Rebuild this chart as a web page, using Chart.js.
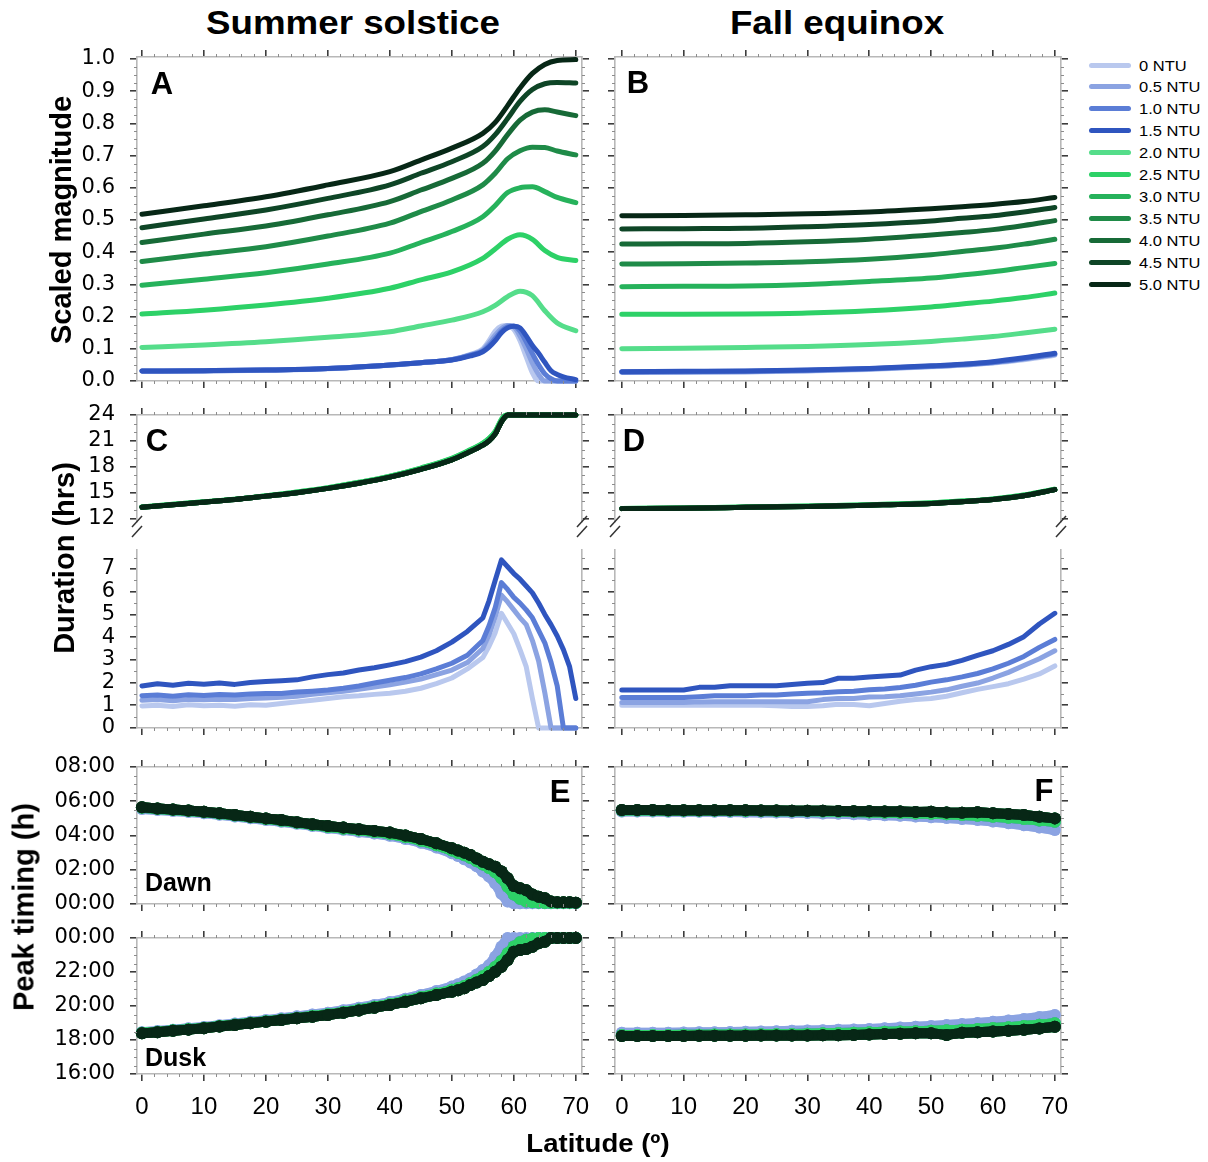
<!DOCTYPE html>
<html lang="en">
<head>
<meta charset="UTF-8">
<title>Scaled magnitude, duration and peak timing vs latitude</title>
<script src="https://cdn.jsdelivr.net/npm/chart.js"></script>
<style>
    body {
        margin: 0;
        background: #fff;
        font-family: 'Liberation Sans', Arial, sans-serif;
    }

    #figure {
        position: relative;
        width: 1208px;
        height: 1162px;
        overflow: hidden;
        background: #fff;
    }

    #figure canvas {
        position: absolute;
    }

    .txt {
        position: absolute;
        white-space: nowrap;
        line-height: 1;
        font-weight: bold;
        color: #000;
    }

    .legend-row {
        position: absolute;
        left: 1089px;
        height: 20px;
        display: flex;
        align-items: center;
    }

    .legend-line {
        width: 42px;
        height: 5px;
        border-radius: 3px;
        margin-right: 8px;
    }

    .legend-text {
        font-size: 15px;
        color: #000;
        transform: scaleX(1.1);
        transform-origin: left center;
    }
</style>
</head>
<body>
<div id="figure"></div>

<script>
// Turbidity levels (one series each)
const NTU_LABELS = ['0 NTU', '0.5 NTU', '1.0 NTU', '1.5 NTU', '2.0 NTU', '2.5 NTU',
                    '3.0 NTU', '3.5 NTU', '4.0 NTU', '4.5 NTU', '5.0 NTU'];
const NTU_COLORS = ['#b9c8ee', '#8ba3e2', '#5b7dd6', '#2f55bf', '#55dd8a', '#2dd167',
                    '#26b25b', '#1f8b48', '#176a37', '#0e4526', '#072716'];

// Tick values
const LAT_TICKS = [0, 10, 20, 30, 40, 50, 60, 70];
const MAG_TICKS = [0, 0.1, 0.2, 0.3, 0.4, 0.5, 0.6, 0.7, 0.8, 0.9, 1.0];
const DUR_HI_TICKS = [12, 15, 18, 21, 24];
const DUR_LO_TICKS = [0, 1, 2, 3, 4, 5, 6, 7];
const DAWN_TICKS = [0, 2, 4, 6, 8];
const DUSK_TICKS = [16, 18, 20, 22, 24];

// ---- Scaled magnitude, summer solstice ----
const LAT_MAG_SUMMER_BLUE = [0, 10, 20, 30, 40, 45, 50, 53, 55, 56, 57, 58, 59, 60, 61, 62, 63, 64, 65, 66, 67, 68, 70];
const MAG_SUMMER_0  = [.030, .031, .033, .038, .049, .057, .067, .083, .100, .125, .155, .170, .172, .160, .125, .075, .025, 0, 0, 0, 0, 0, 0];
const MAG_SUMMER_05 = [.030, .031, .034, .039, .050, .057, .066, .081, .096, .118, .142, .162, .172, .168, .140, .100, .055, .020, 0, 0, 0, 0, 0];
const MAG_SUMMER_10 = [.031, .032, .034, .039, .050, .057, .066, .080, .093, .110, .132, .155, .168, .171, .155, .122, .085, .050, .022, .007, 0, 0, 0];
const MAG_SUMMER_15 = [.031, .032, .034, .039, .050, .057, .065, .078, .091, .105, .125, .150, .165, .170, .165, .140, .110, .086, .058, .032, .020, .013, .004];

const LAT_MAG_SUMMER_GREEN = [0, 10, 20, 30, 40, 45, 50, 55, 57, 59, 61, 63, 65, 67, 70];
const MAG_SUMMER_20 = [.104, .112, .122, .136, .153, .171, .189, .215, .235, .262, .279, .265, .218, .180, .156];
const MAG_SUMMER_25 = [.208, .220, .236, .257, .288, .314, .339, .381, .410, .440, .454, .440, .405, .384, .374];
const MAG_SUMMER_30 = [.297, .316, .336, .363, .397, .430, .464, .510, .545, .585, .600, .603, .588, .570, .554];
const MAG_SUMMER_35 = [.371, .394, .417, .450, .490, .526, .562, .609, .645, .690, .715, .726, .725, .714, .702];
const MAG_SUMMER_40 = [.430, .456, .481, .516, .557, .593, .629, .676, .714, .765, .810, .835, .842, .835, .824];
const MAG_SUMMER_45 = [.476, .503, .531, .567, .609, .645, .681, .728, .765, .815, .868, .905, .923, .927, .925];
const MAG_SUMMER_50 = [.518, .544, .572, .609, .650, .686, .723, .769, .803, .855, .910, .955, .983, .995, .998];

// ---- Scaled magnitude, fall equinox ----
const LAT_MAG_FALL = [0, 10, 20, 30, 40, 50, 55, 60, 65, 70];
const MAG_FALL_0  = [.027, .027, .028, .031, .036, .044, .049, .056, .066, .080];
const MAG_FALL_05 = [.027, .028, .029, .032, .037, .045, .050, .057, .068, .082];
const MAG_FALL_10 = [.028, .029, .030, .033, .038, .046, .051, .058, .070, .084];
const MAG_FALL_15 = [.029, .030, .031, .034, .039, .047, .052, .060, .072, .086];
const MAG_FALL_20 = [.100, .102, .104, .107, .113, .123, .130, .138, .149, .161];
const MAG_FALL_25 = [.207, .207, .208, .211, .218, .230, .239, .248, .259, .273];
const MAG_FALL_30 = [.293, .294, .295, .300, .309, .320, .329, .339, .352, .365];
const MAG_FALL_35 = [.363, .364, .366, .370, .378, .392, .402, .412, .425, .440];
const MAG_FALL_40 = [.425, .426, .427, .432, .440, .453, .461, .470, .483, .498];
const MAG_FALL_45 = [.472, .473, .474, .479, .486, .497, .505, .513, .525, .539];
const MAG_FALL_50 = [.513, .514, .516, .519, .525, .535, .541, .548, .557, .570];

// ---- Duration (hrs), long branch (2.0 - 5.0 NTU) ----
const LAT_DUR_SUMMER_LONG = [0, 5, 10, 15, 20, 25, 30, 35, 40, 45, 50, 52.5, 55, 56, 57, 57.5, 58, 58.5, 59, 60, 65, 70];
const DUR_SUMMER_LONG_LIGHT = [13.35, 13.65, 13.95, 14.25, 14.65, 15.08, 15.58, 16.2, 16.92, 17.85, 18.98, 19.8, 20.75, 21.3, 22.1, 22.8, 23.5, 23.9, 24, 24, 24, 24];
const DUR_SUMMER_LONG_DARK  = [13.3, 13.6, 13.9, 14.2, 14.6, 15.0, 15.5, 16.1, 16.8, 17.7, 18.8, 19.6, 20.5, 21.0, 21.8, 22.5, 23.2, 23.7, 24, 24, 24, 24];

const LAT_DUR_FALL_LONG = [0, 10, 20, 30, 40, 50, 55, 60, 65, 70];
const DUR_FALL_LONG_LIGHT = [13.17, 13.23, 13.33, 13.45, 13.6, 13.82, 14.02, 14.28, 14.72, 15.4];
const DUR_FALL_LONG_DARK  = [13.15, 13.2, 13.3, 13.4, 13.55, 13.75, 13.95, 14.2, 14.65, 15.35];

// ---- Duration (hrs), short branch (0 - 1.5 NTU) ----
const LAT_DUR_SUMMER_SHORT = [0, 2.5, 5, 7.5, 10, 12.5, 15, 17.5, 20, 22.5, 25, 27.5, 30, 32.5, 35, 37.5, 40, 42.5, 45, 47.5, 50, 52.5, 55,
                              56, 57, 58, 59, 60, 61, 62, 63, 64, 65, 66, 67, 68, 69, 70];
const DUR_SUMMER_0  = [0.97, 1.00, 0.95, 1.02, 0.98, 1.00, 0.96, 1.02, 1.00, 1.08, 1.15, 1.22, 1.30, 1.38, 1.42, 1.48, 1.53, 1.62, 1.75, 1.95, 2.20, 2.60, 3.10,
                       3.60, 4.20, 5.05, 4.60, 4.15, 3.45, 2.70, 1.30, 0, 0, 0, 0, 0, 0, 0];
const DUR_SUMMER_05 = [1.22, 1.25, 1.20, 1.26, 1.24, 1.27, 1.25, 1.30, 1.32, 1.35, 1.40, 1.48, 1.55, 1.62, 1.70, 1.80, 1.90, 2.02, 2.15, 2.35, 2.55, 2.88, 3.50,
                       4.10, 4.90, 5.85, 5.55, 5.20, 4.85, 4.55, 3.85, 2.95, 1.55, 0, 0, 0, 0, 0];
const DUR_SUMMER_10 = [1.42, 1.45, 1.40, 1.46, 1.43, 1.47, 1.45, 1.50, 1.52, 1.52, 1.58, 1.62, 1.67, 1.75, 1.85, 1.98, 2.10, 2.22, 2.38, 2.60, 2.85, 3.20, 3.85,
                       4.50, 5.30, 6.40, 6.10, 5.75, 5.50, 5.20, 4.85, 4.30, 3.75, 2.90, 1.85, 0, 0, 0];
const DUR_SUMMER_15 = [1.85, 1.95, 1.88, 1.97, 1.93, 1.98, 1.92, 2.00, 2.05, 2.08, 2.12, 2.25, 2.35, 2.42, 2.55, 2.65, 2.78, 2.92, 3.12, 3.40, 3.78, 4.25, 4.85,
                       5.60, 6.50, 7.40, 7.10, 6.80, 6.55, 6.25, 5.95, 5.50, 5.00, 4.55, 4.05, 3.45, 2.70, 1.30];

const LAT_STEP = [0, 2.5, 5, 7.5, 10, 12.5, 15, 17.5, 20, 22.5, 25, 27.5, 30, 32.5, 35, 37.5, 40, 42.5, 45, 47.5, 50, 52.5, 55, 57.5, 60, 62.5, 65, 67.5, 70];
const DUR_FALL_0  = [1.00, 1.00, 1.00, 1.00, 1.00, 1.00, 1.00, 1.00, 1.00, 1.00, 0.98, 0.95, 0.95, 0.98, 1.05, 1.03, 0.98, 1.08, 1.18, 1.25, 1.30, 1.40, 1.55, 1.70, 1.82, 1.95, 2.15, 2.38, 2.73];
const DUR_FALL_05 = [1.12, 1.12, 1.12, 1.12, 1.12, 1.15, 1.16, 1.16, 1.16, 1.16, 1.16, 1.16, 1.16, 1.25, 1.30, 1.30, 1.36, 1.38, 1.42, 1.50, 1.58, 1.68, 1.84, 1.98, 2.20, 2.45, 2.75, 3.05, 3.40];
const DUR_FALL_10 = [1.34, 1.34, 1.34, 1.34, 1.34, 1.38, 1.42, 1.42, 1.42, 1.45, 1.45, 1.50, 1.53, 1.55, 1.60, 1.62, 1.68, 1.72, 1.78, 1.88, 2.02, 2.12, 2.25, 2.40, 2.60, 2.85, 3.15, 3.55, 3.90];
const DUR_FALL_15 = [1.67, 1.67, 1.67, 1.67, 1.67, 1.79, 1.79, 1.86, 1.86, 1.86, 1.86, 1.92, 1.97, 2.00, 2.19, 2.19, 2.25, 2.29, 2.33, 2.55, 2.70, 2.80, 2.98, 3.20, 3.40, 3.68, 4.02, 4.58, 5.05];

// ---- Peak timing (hours of day), summer solstice ----
const LAT_TIMING_SUMMER = [0, 2.5, 5, 7.5, 10, 12.5, 15, 17.5, 20, 22.5, 25, 27.5, 30, 32.5, 35, 37.5, 40, 42.5, 45, 47.5, 50,
                           51, 52, 53, 54, 55, 56, 57, 58, 59, 60, 61, 62, 63, 64, 65, 66, 67, 68, 69, 70];
const DAWN_SUMMER_LIGHT = [5.55, 5.49, 5.43, 5.37, 5.30, 5.21, 5.11, 5.01, 4.91, 4.80, 4.68, 4.56, 4.44, 4.33, 4.22, 4.11, 3.98, 3.80, 3.58, 3.30, 2.96,
                           2.80, 2.62, 2.42, 2.20, 1.90, 1.60, 1.20, 0.60, 0.15, 0.05, 0.05, 0.05, 0.05, 0.05, 0.05, 0.05, 0.05, 0.05, 0.05, 0.05];
const DAWN_SUMMER_MID   = [5.62, 5.55, 5.49, 5.43, 5.36, 5.27, 5.17, 5.07, 4.97, 4.86, 4.74, 4.62, 4.50, 4.40, 4.30, 4.20, 4.08, 3.90, 3.70, 3.43, 3.12,
                           2.98, 2.85, 2.68, 2.50, 2.30, 2.10, 1.85, 1.50, 1.00, 0.55, 0.30, 0.15, 0.10, 0.08, 0.06, 0.06, 0.06, 0.06, 0.06, 0.06];
const DAWN_SUMMER_DARK  = [5.65, 5.58, 5.52, 5.46, 5.39, 5.30, 5.20, 5.10, 5.00, 4.90, 4.78, 4.66, 4.55, 4.46, 4.37, 4.27, 4.17, 4.00, 3.80, 3.55, 3.25,
                           3.13, 3.00, 2.86, 2.66, 2.47, 2.32, 2.18, 1.90, 1.50, 1.05, 0.92, 0.80, 0.55, 0.42, 0.33, 0.14, 0.10, 0.10, 0.10, 0.08];
const DUSK_SUMMER_LIGHT = [18.45, 18.53, 18.61, 18.69, 18.77, 18.87, 18.97, 19.07, 19.17, 19.28, 19.39, 19.50, 19.61, 19.75, 19.90, 20.06, 20.23, 20.43, 20.65, 20.88, 21.14,
                           21.28, 21.44, 21.62, 21.85, 22.12, 22.40, 22.90, 23.49, 24, 24, 24, 24, 24, 24, 24, 24, 24, 24, 24, 24];
const DUSK_SUMMER_MID   = [18.42, 18.49, 18.57, 18.64, 18.72, 18.82, 18.91, 19.01, 19.11, 19.21, 19.31, 19.41, 19.52, 19.65, 19.80, 19.96, 20.12, 20.32, 20.53, 20.73, 20.95,
                           21.05, 21.18, 21.36, 21.55, 21.75, 22.00, 22.30, 22.65, 23.10, 23.50, 23.75, 23.90, 23.97, 24, 24, 24, 24, 24, 24, 24];
const DUSK_SUMMER_DARK  = [18.39, 18.46, 18.54, 18.61, 18.69, 18.79, 18.88, 18.98, 19.08, 19.18, 19.28, 19.37, 19.47, 19.60, 19.74, 19.90, 20.06, 20.25, 20.45, 20.64, 20.84,
                           20.92, 21.05, 21.24, 21.38, 21.53, 21.76, 22.02, 22.31, 22.71, 23.19, 23.29, 23.35, 23.49, 23.69, 23.78, 24, 24, 24, 24, 24];

// ---- Peak timing, fall equinox ----
const DAWN_FALL_LIGHT = [5.40, 5.40, 5.40, 5.39, 5.39, 5.38, 5.38, 5.37, 5.36, 5.35, 5.34, 5.33, 5.31, 5.29, 5.27, 5.24, 5.21, 5.18, 5.15, 5.11, 5.07, 5.02, 4.96, 4.90, 4.82, 4.72, 4.60, 4.47, 4.32];
const DAWN_FALL_MID   = [5.46, 5.46, 5.46, 5.45, 5.45, 5.45, 5.44, 5.44, 5.43, 5.43, 5.42, 5.41, 5.41, 5.40, 5.38, 5.37, 5.35, 5.33, 5.31, 5.29, 5.27, 5.24, 5.20, 5.16, 5.10, 5.03, 4.96, 4.88, 4.80];
const DAWN_FALL_DARK  = [5.49, 5.49, 5.49, 5.48, 5.48, 5.48, 5.47, 5.47, 5.47, 5.46, 5.46, 5.45, 5.45, 5.44, 5.43, 5.42, 5.41, 5.40, 5.40, 5.37, 5.39, 5.34, 5.33, 5.36, 5.30, 5.25, 5.20, 5.10, 5.00];
const DUSK_FALL_LIGHT = [18.42, 18.42, 18.43, 18.43, 18.44, 18.45, 18.46, 18.47, 18.48, 18.50, 18.52, 18.54, 18.56, 18.58, 18.60, 18.62, 18.65, 18.69, 18.73, 18.78, 18.83, 18.88, 18.94, 19.00, 19.08, 19.15, 19.24, 19.35, 19.47];
const DUSK_FALL_MID   = [18.30, 18.30, 18.30, 18.30, 18.31, 18.31, 18.32, 18.32, 18.33, 18.34, 18.35, 18.36, 18.37, 18.39, 18.41, 18.43, 18.45, 18.48, 18.50, 18.52, 18.55, 18.58, 18.61, 18.65, 18.70, 18.75, 18.82, 18.90, 18.98];
const DUSK_FALL_DARK  = [18.24, 18.24, 18.24, 18.24, 18.24, 18.25, 18.25, 18.25, 18.25, 18.26, 18.26, 18.26, 18.27, 18.28, 18.28, 18.30, 18.32, 18.35, 18.37, 18.39, 18.40, 18.30, 18.42, 18.45, 18.50, 18.55, 18.60, 18.68, 18.78];

// which timing curve each NTU level follows (light / mid / dark)
const TIMING_GROUP = [0, 0, 1, 1, 1, 1, 2, 2, 2, 2, 2];

// ---------------------------------------------------------------------------
// layout of the plot frames (pixels)
const FRAME_X = { left: [137, 582], right: [615, 1061] };
const FRAME_Y = { mag: [57, 381], durHi: [415, 538], durLo: [549, 728], dawn: [767, 904], dusk: [938, 1074] };
const LAT_MIN = { left: -0.8, right: -1.1 };
const LAT_MAX = 71;

const TICK_COLOR = '#3c3c3c';
const FRAME_COLOR = '#b8b8b8';
const fig = document.getElementById('figure');

function pts(lats, vals) {
    return lats.map((x, i) => ({ x: x, y: vals[i] }));
}

// small marks between the major ticks along the frame
const frameMinor = {
    id: 'frameMinor',
    afterDraw(chart, args, opts) {
        if (!opts || !opts.edges) return;
        const ctx = chart.ctx, a = chart.chartArea;
        const xs = chart.scales.x, ys = chart.scales.y;
        ctx.save();
        ctx.strokeStyle = '#8c8c8c';
        ctx.lineWidth = 1;
        ctx.beginPath();
        for (let i = 0; ; i++) {
            const v = i * opts.xStep;
            if (v > 70) break;
            if (i % opts.xEvery === 0) continue;
            const px = Math.round(xs.getPixelForValue(v)) + 0.5;
            if (opts.edges.includes('top')) { ctx.moveTo(px, a.top); ctx.lineTo(px, a.top - 3); }
            if (opts.edges.includes('bottom')) { ctx.moveTo(px, a.bottom); ctx.lineTo(px, a.bottom + 3); }
        }
        for (let i = 0; ; i++) {
            const v = opts.yFrom + i * opts.yStep;
            if (v > opts.yTo + 1e-9) break;
            if (i % opts.yEvery === 0) continue;
            const py = Math.round(ys.getPixelForValue(v)) + 0.5;
            if (py < a.top || py > a.bottom) continue;
            ctx.moveTo(a.left, py); ctx.lineTo(a.left - 3, py);
            ctx.moveTo(a.right, py); ctx.lineTo(a.right + 3, py);
        }
        ctx.stroke();
        ctx.restore();
    }
};

// double slashes marking the broken duration axis
const axisBreak = {
    id: 'axisBreak',
    afterDraw(chart, args, opts) {
        if (!opts || !opts.on) return;
        const ctx = chart.ctx, a = chart.chartArea;
        ctx.save();
        ctx.strokeStyle = '#333';
        ctx.lineWidth = 1.5;
        [a.left, a.right].forEach(x => {
            [0, 10].forEach(dy => {
                const y = a.bottom + dy;
                ctx.beginPath();
                ctx.moveTo(x - 5, y + 5);
                ctx.lineTo(x + 5, y - 6);
                ctx.stroke();
            });
        });
        ctx.restore();
    }
};

Chart.register(frameMinor, axisBreak);

function axisX(position, col, show, labels, size) {
    return {
        type: 'linear',
        position: position,
        display: show,
        min: LAT_MIN[col],
        max: LAT_MAX,
        bounds: 'data',
        afterBuildTicks: s => { s.ticks = LAT_TICKS.map(v => ({ value: v })); },
        ticks: {
            display: labels,
            autoSkip: false,
            maxRotation: 0,
            padding: 12,
            color: '#000',
            font: { family: "'Liberation Sans', Arial, sans-serif", size: 24 }
        },
        grid: { drawOnChartArea: false, drawTicks: true, tickLength: 7, color: TICK_COLOR, lineWidth: 1.6 },
        border: { display: true, color: FRAME_COLOR, width: 1.6 },
        afterFit: s => {
            s.height = size;
            s.paddingLeft = s.paddingRight = s.paddingTop = s.paddingBottom = 0;
        }
    };
}

function axisY(position, yc, labels, size) {
    return {
        type: 'linear',
        position: position,
        min: yc.min,
        max: yc.max,
        bounds: 'data',
        afterBuildTicks: s => { s.ticks = yc.ticks.map(v => ({ value: v })); },
        ticks: {
            display: labels,
            autoSkip: false,
            padding: 15,
            color: '#000',
            font: { family: "'DejaVu Sans', sans-serif", size: 21 },
            callback: v => yc.fmt(v)
        },
        grid: { drawOnChartArea: false, drawTicks: true, tickLength: 7, color: TICK_COLOR, lineWidth: 1.6 },
        border: { display: true, color: FRAME_COLOR, width: 1.6 },
        afterFit: s => {
            s.width = size;
            s.paddingLeft = s.paddingRight = s.paddingTop = s.paddingBottom = 0;
        }
    };
}

function makeChart(col, row, cfg) {
    const [x0, x1] = FRAME_X[col];
    const [y0, y1] = FRAME_Y[row];
    const L = col === 'left' ? 100 : 16;
    const R = 24;
    const T = cfg.top ? 16 : (cfg.padTop || 0);
    const B = cfg.bottom ? (cfg.xLabels ? 56 : 16) : (cfg.padBottom || 0);

    const cv = document.createElement('canvas');
    cv.width = x1 - x0 + L + R;
    cv.height = y1 - y0 + T + B;
    cv.style.left = (x0 - L) + 'px';
    cv.style.top = (y0 - T) + 'px';
    fig.appendChild(cv);

    const scales = {
        x: axisX('bottom', col, !!cfg.bottom, !!cfg.xLabels, B),
        y: axisY('left', cfg.y, col === 'left', L),
        yRight: axisY('right', cfg.y, false, R)
    };
    if (cfg.top) scales.xTop = axisX('top', col, true, false, T);

    return new Chart(cv, {
        type: 'line',
        data: { datasets: cfg.datasets },
        options: {
            responsive: false,
            animation: false,
            events: [],
            layout: {
                autoPadding: false,
                padding: { left: 0, right: 0, top: cfg.top ? 0 : T, bottom: cfg.bottom ? 0 : B }
            },
            plugins: {
                legend: { display: false },
                tooltip: { enabled: false },
                frameMinor: Object.assign({ edges: cfg.edges, xStep: 2, xEvery: 5 }, cfg.minor),
                axisBreak: { on: !!cfg.breakBelow }
            },
            scales: scales
        }
    });
}

// smooth line series
function lineSet(i, lats, vals, smooth) {
    return {
        label: NTU_LABELS[i],
        data: pts(lats, vals),
        borderColor: NTU_COLORS[i],
        backgroundColor: NTU_COLORS[i],
        borderWidth: 5,
        borderCapStyle: 'round',
        borderJoinStyle: 'round',
        pointRadius: 0,
        cubicInterpolationMode: smooth ? 'monotone' : 'default',
        tension: 0,
        order: 10 - i,
        clip: 8
    };
}

// dotted band series for peak timing
function dotSet(i, lats, vals) {
    return {
        label: NTU_LABELS[i],
        data: pts(lats, vals),
        borderColor: NTU_COLORS[i],
        backgroundColor: NTU_COLORS[i],
        pointBackgroundColor: NTU_COLORS[i],
        borderWidth: 10,
        borderCapStyle: 'round',
        borderJoinStyle: 'round',
        pointRadius: 6,
        pointBorderWidth: 0,
        tension: 0,
        order: 10 - i,
        clip: 8
    };
}

const fmtMag = v => v.toFixed(1);
const fmtInt = v => String(v);
const fmtDawn = v => (v < 10 ? '0' : '') + v + ':00';
const fmtDusk = v => (v === 24 ? '00' : String(v)) + ':00';

const Y_MAG = { min: 0, max: 1.006, ticks: MAG_TICKS, fmt: fmtMag };
const Y_DUR_HI = { min: 11.6, max: 24, ticks: DUR_HI_TICKS, fmt: fmtInt };
const Y_DUR_LO = { min: 0, max: 7.88, ticks: DUR_LO_TICKS, fmt: fmtInt };
const Y_DAWN = { min: 0, max: 8, ticks: DAWN_TICKS, fmt: fmtDawn };
const Y_DUSK = { min: 16, max: 24, ticks: DUSK_TICKS, fmt: fmtDusk };

const ALL_EDGES = ['top', 'bottom'];

// ---- A / B : scaled magnitude ----
const magSummer = [MAG_SUMMER_0, MAG_SUMMER_05, MAG_SUMMER_10, MAG_SUMMER_15, MAG_SUMMER_20, MAG_SUMMER_25,
                   MAG_SUMMER_30, MAG_SUMMER_35, MAG_SUMMER_40, MAG_SUMMER_45, MAG_SUMMER_50];
const magFall = [MAG_FALL_0, MAG_FALL_05, MAG_FALL_10, MAG_FALL_15, MAG_FALL_20, MAG_FALL_25,
                 MAG_FALL_30, MAG_FALL_35, MAG_FALL_40, MAG_FALL_45, MAG_FALL_50];

makeChart('left', 'mag', {
    top: true, bottom: true, y: Y_MAG, edges: ALL_EDGES,
    minor: { yFrom: 0, yTo: 1, yStep: 0.025, yEvery: 4 },
    datasets: magSummer.map((vals, i) => lineSet(i, i < 4 ? LAT_MAG_SUMMER_BLUE : LAT_MAG_SUMMER_GREEN, vals, true))
});
makeChart('right', 'mag', {
    top: true, bottom: true, y: Y_MAG, edges: ALL_EDGES,
    minor: { yFrom: 0, yTo: 1, yStep: 0.025, yEvery: 4 },
    datasets: magFall.map((vals, i) => lineSet(i, LAT_MAG_FALL, vals, true))
});

// ---- C / D : duration, upper (long) part ----
const longIdx = [4, 5, 6, 7, 8, 9, 10];
makeChart('left', 'durHi', {
    top: true, bottom: false, padBottom: 16, breakBelow: true, y: Y_DUR_HI, edges: ['top'],
    minor: { yFrom: 12, yTo: 24, yStep: 1, yEvery: 3 },
    datasets: longIdx.map(i => lineSet(i, LAT_DUR_SUMMER_LONG, i < 6 ? DUR_SUMMER_LONG_LIGHT : DUR_SUMMER_LONG_DARK, true))
});
makeChart('right', 'durHi', {
    top: true, bottom: false, padBottom: 16, breakBelow: true, y: Y_DUR_HI, edges: ['top'],
    minor: { yFrom: 12, yTo: 24, yStep: 1, yEvery: 3 },
    datasets: longIdx.map(i => lineSet(i, LAT_DUR_FALL_LONG, i < 6 ? DUR_FALL_LONG_LIGHT : DUR_FALL_LONG_DARK, true))
});

// ---- C / D : duration, lower (short) part ----
const durSummerShort = [DUR_SUMMER_0, DUR_SUMMER_05, DUR_SUMMER_10, DUR_SUMMER_15];
const durFallShort = [DUR_FALL_0, DUR_FALL_05, DUR_FALL_10, DUR_FALL_15];
makeChart('left', 'durLo', {
    top: false, bottom: true, y: Y_DUR_LO, edges: ['bottom'],
    minor: { yFrom: 0, yTo: 7.5, yStep: 0.5, yEvery: 2 },
    datasets: durSummerShort.map((vals, i) => lineSet(i, LAT_DUR_SUMMER_SHORT, vals, false))
});
makeChart('right', 'durLo', {
    top: false, bottom: true, y: Y_DUR_LO, edges: ['bottom'],
    minor: { yFrom: 0, yTo: 7.5, yStep: 0.5, yEvery: 2 },
    datasets: durFallShort.map((vals, i) => lineSet(i, LAT_STEP, vals, false))
});

// ---- E / F : peak timing ----
const dawnSummer = [DAWN_SUMMER_LIGHT, DAWN_SUMMER_MID, DAWN_SUMMER_DARK];
const duskSummer = [DUSK_SUMMER_LIGHT, DUSK_SUMMER_MID, DUSK_SUMMER_DARK];
const dawnFall = [DAWN_FALL_LIGHT, DAWN_FALL_MID, DAWN_FALL_DARK];
const duskFall = [DUSK_FALL_LIGHT, DUSK_FALL_MID, DUSK_FALL_DARK];

makeChart('left', 'dawn', {
    top: true, bottom: true, y: Y_DAWN, edges: ALL_EDGES,
    minor: { yFrom: 0, yTo: 8, yStep: 0.5, yEvery: 4 },
    datasets: NTU_LABELS.map((n, i) => dotSet(i, LAT_TIMING_SUMMER, dawnSummer[TIMING_GROUP[i]]))
});
makeChart('left', 'dusk', {
    top: true, bottom: true, xLabels: true, y: Y_DUSK, edges: ALL_EDGES,
    minor: { yFrom: 16, yTo: 24, yStep: 0.5, yEvery: 4 },
    datasets: NTU_LABELS.map((n, i) => dotSet(i, LAT_TIMING_SUMMER, duskSummer[TIMING_GROUP[i]]))
});
makeChart('right', 'dawn', {
    top: true, bottom: true, y: Y_DAWN, edges: ALL_EDGES,
    minor: { yFrom: 0, yTo: 8, yStep: 0.5, yEvery: 4 },
    datasets: NTU_LABELS.map((n, i) => dotSet(i, LAT_STEP, dawnFall[TIMING_GROUP[i]]))
});
makeChart('right', 'dusk', {
    top: true, bottom: true, xLabels: true, y: Y_DUSK, edges: ALL_EDGES,
    minor: { yFrom: 16, yTo: 24, yStep: 0.5, yEvery: 4 },
    datasets: NTU_LABELS.map((n, i) => dotSet(i, LAT_STEP, duskFall[TIMING_GROUP[i]]))
});

// ---------------------------------------------------------------------------
// titles, axis names and panel letters
function addText(text, x, y, size, opts) {
    opts = opts || {};
    const el = document.createElement('div');
    el.className = 'txt';
    el.textContent = text;
    el.style.fontSize = size + 'px';
    el.style.left = x + 'px';
    el.style.top = y + 'px';
    let t = opts.left ? 'translate(0, -50%)' : 'translate(-50%, -50%)';
    if (opts.rotate) t += ' rotate(-90deg) scaleY(' + (opts.stretch || 1) + ')';
    else t += ' scaleX(' + (opts.stretch || 1) + ')';
    el.style.transform = t;
    if (opts.left) el.style.transformOrigin = 'left center';
    fig.appendChild(el);
}

addText('Summer solstice', 353, 22, 34, { stretch: 1.08 });
addText('Fall equinox', 837, 22, 34, { stretch: 1.08 });
addText('Scaled magnitude', 61, 220, 29, { rotate: true });
addText('Duration (hrs)', 64, 558, 29, { rotate: true });
addText('Peak timing (h)', 24, 907, 29, { rotate: true });
addText('Latitude (º)', 598, 1143, 26, { stretch: 1.06 });

addText('A', 162, 83, 31);
addText('B', 638, 82, 31);
addText('C', 157, 440, 31);
addText('D', 634, 440, 31);
addText('E', 560, 791, 31);
addText('F', 1044, 790, 31);
addText('Dawn', 145, 882, 25, { left: true });
addText('Dusk', 145, 1057, 25, { left: true });

// legend
const LEGEND_TOP = 65;
const LEGEND_STEP = 21.9;
NTU_LABELS.forEach((name, i) => {
    const row = document.createElement('div');
    row.className = 'legend-row';
    row.style.top = (LEGEND_TOP + i * LEGEND_STEP - 10) + 'px';
    const line = document.createElement('div');
    line.className = 'legend-line';
    line.style.background = NTU_COLORS[i];
    const txt = document.createElement('span');
    txt.className = 'legend-text';
    txt.textContent = name;
    row.appendChild(line);
    row.appendChild(txt);
    fig.appendChild(row);
});
</script>
</body>
</html>
